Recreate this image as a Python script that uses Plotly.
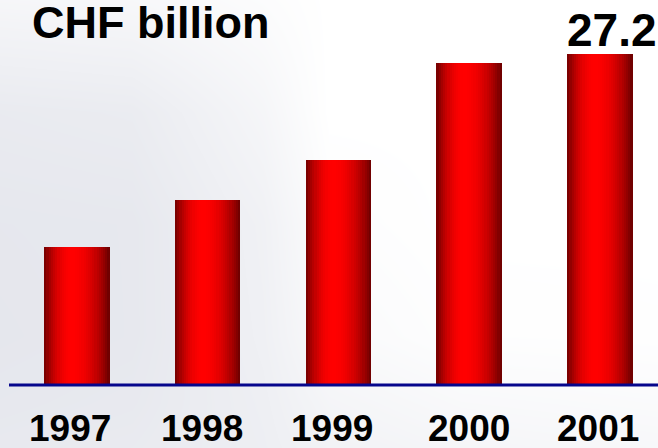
import numpy as np
import plotly.graph_objects as go

# Data
years = ["1997", "1998", "1999", "2000", "2001"]
values = [11.3, 15.2, 18.5, 26.5, 27.2]
unit_label = "CHF billion"

# Axis ranges (full-canvas plot area)
X_RANGE = [-0.589, 4.445]
Y_RANGE = [-5.18, 31.64]

FONT = 'Arial, "Liberation Sans", sans-serif'

fig = go.Figure()

# Soft grey backdrop: greyish on the left and bottom, fading to white on the right
bg_fx = [-0.1, 0.0, 0.2, 0.4, 0.5, 0.7, 1.0, 1.1]
bg_fy = [-0.1, 0.0, 0.1, 0.25, 0.5, 0.75, 1.0, 1.1]  # fraction from bottom
bg_rows = [
    [0.30, 0.30, 0.34, 0.46, 0.60, 0.70, 0.76, 0.76],
    [0.30, 0.30, 0.34, 0.46, 0.60, 0.70, 0.76, 0.76],
    [0.26, 0.26, 0.30, 0.48, 0.68, 0.80, 0.85, 0.85],
    [0.22, 0.22, 0.26, 0.52, 0.82, 0.95, 0.97, 0.97],
    [0.24, 0.24, 0.26, 0.55, 0.92, 1.00, 1.00, 1.00],
    [0.34, 0.34, 0.38, 0.70, 1.00, 1.00, 1.00, 1.00],
    [0.72, 0.72, 0.76, 0.90, 1.00, 1.00, 1.00, 1.00],
    [0.72, 0.72, 0.76, 0.90, 1.00, 1.00, 1.00, 1.00],
]
bg_x = [X_RANGE[0] + f * (X_RANGE[1] - X_RANGE[0]) for f in bg_fx]
bg_y = [Y_RANGE[0] + f * (Y_RANGE[1] - Y_RANGE[0]) for f in bg_fy]
fig.add_trace(go.Heatmap(
    x=bg_x, y=bg_y, z=bg_rows, zmin=0, zmax=1, zsmooth="best",
    colorscale=[[0, "rgb(222,224,232)"], [1, "rgb(255,255,255)"]],
    showscale=False, hoverinfo="skip",
))

# Cylinder-shaded bars built from narrow vertical stripes
BAR_W = 0.5
N_STRIPES = 30
x_pos = list(range(len(years)))


def shade(t):
    # dark edges, bright red slightly left of centre
    peak = 0.42
    if t <= peak:
        s = np.sin(0.5 * np.pi * t / peak)
        lo = 108
    else:
        s = np.cos(0.5 * np.pi * (t - peak) / (1 - peak))
        lo = 100
    r = lo + (255 - lo) * s ** 0.8
    return f"rgb({int(round(r))},0,0)"


step = BAR_W / N_STRIPES
for i in range(N_STRIPES):
    t = (i + 0.5) / N_STRIPES
    w = step * (1.6 if i < N_STRIPES - 1 else 1.0)
    fig.add_trace(go.Bar(
        x=x_pos, y=values, width=w, offset=-BAR_W / 2 + i * step,
        marker=dict(color=shade(t), line=dict(width=0)),
        hoverinfo="skip", showlegend=False,
    ))

# Baseline
fig.add_shape(type="line", xref="paper", yref="y",
              x0=9 / 658, x1=1, y0=0, y1=0,
              line=dict(color="#06068c", width=3))

# Year labels under the bars (slight leftward nudges per label)
label_nudge = [-7, -6, -6, 0, -2]
for xi, yr, dx in zip(x_pos, years, label_nudge):
    fig.add_annotation(x=xi, y=0, xref="x", yref="y", text=f"<b>{yr}</b>",
                       showarrow=False, yanchor="middle", yshift=-44,
                       xshift=dx,
                       font=dict(family=FONT, size=37, color="black"))

# Value label on the latest year
fig.add_annotation(x=x_pos[-1], y=values[-1], xref="x", yref="y",
                   text=f"<b>{values[-1]}</b>", showarrow=False,
                   yanchor="middle", yshift=24, xshift=12,
                   font=dict(family=FONT, size=46, color="black"))

# Unit title
fig.add_annotation(x=30 / 658, y=1 - 23 / 448, xref="paper", yref="paper",
                   text=f"<b>{unit_label}</b>", showarrow=False,
                   xanchor="left", yanchor="middle",
                   font=dict(family=FONT, size=45, color="black"))

fig.update_layout(
    width=658, height=448,
    margin=dict(l=0, r=0, t=0, b=0),
    paper_bgcolor="white", plot_bgcolor="white",
    barmode="overlay", bargap=0,
    showlegend=False,
    xaxis=dict(range=X_RANGE, visible=False, fixedrange=True),
    yaxis=dict(range=Y_RANGE, visible=False, fixedrange=True),
)

fig.write_html("out.html")
